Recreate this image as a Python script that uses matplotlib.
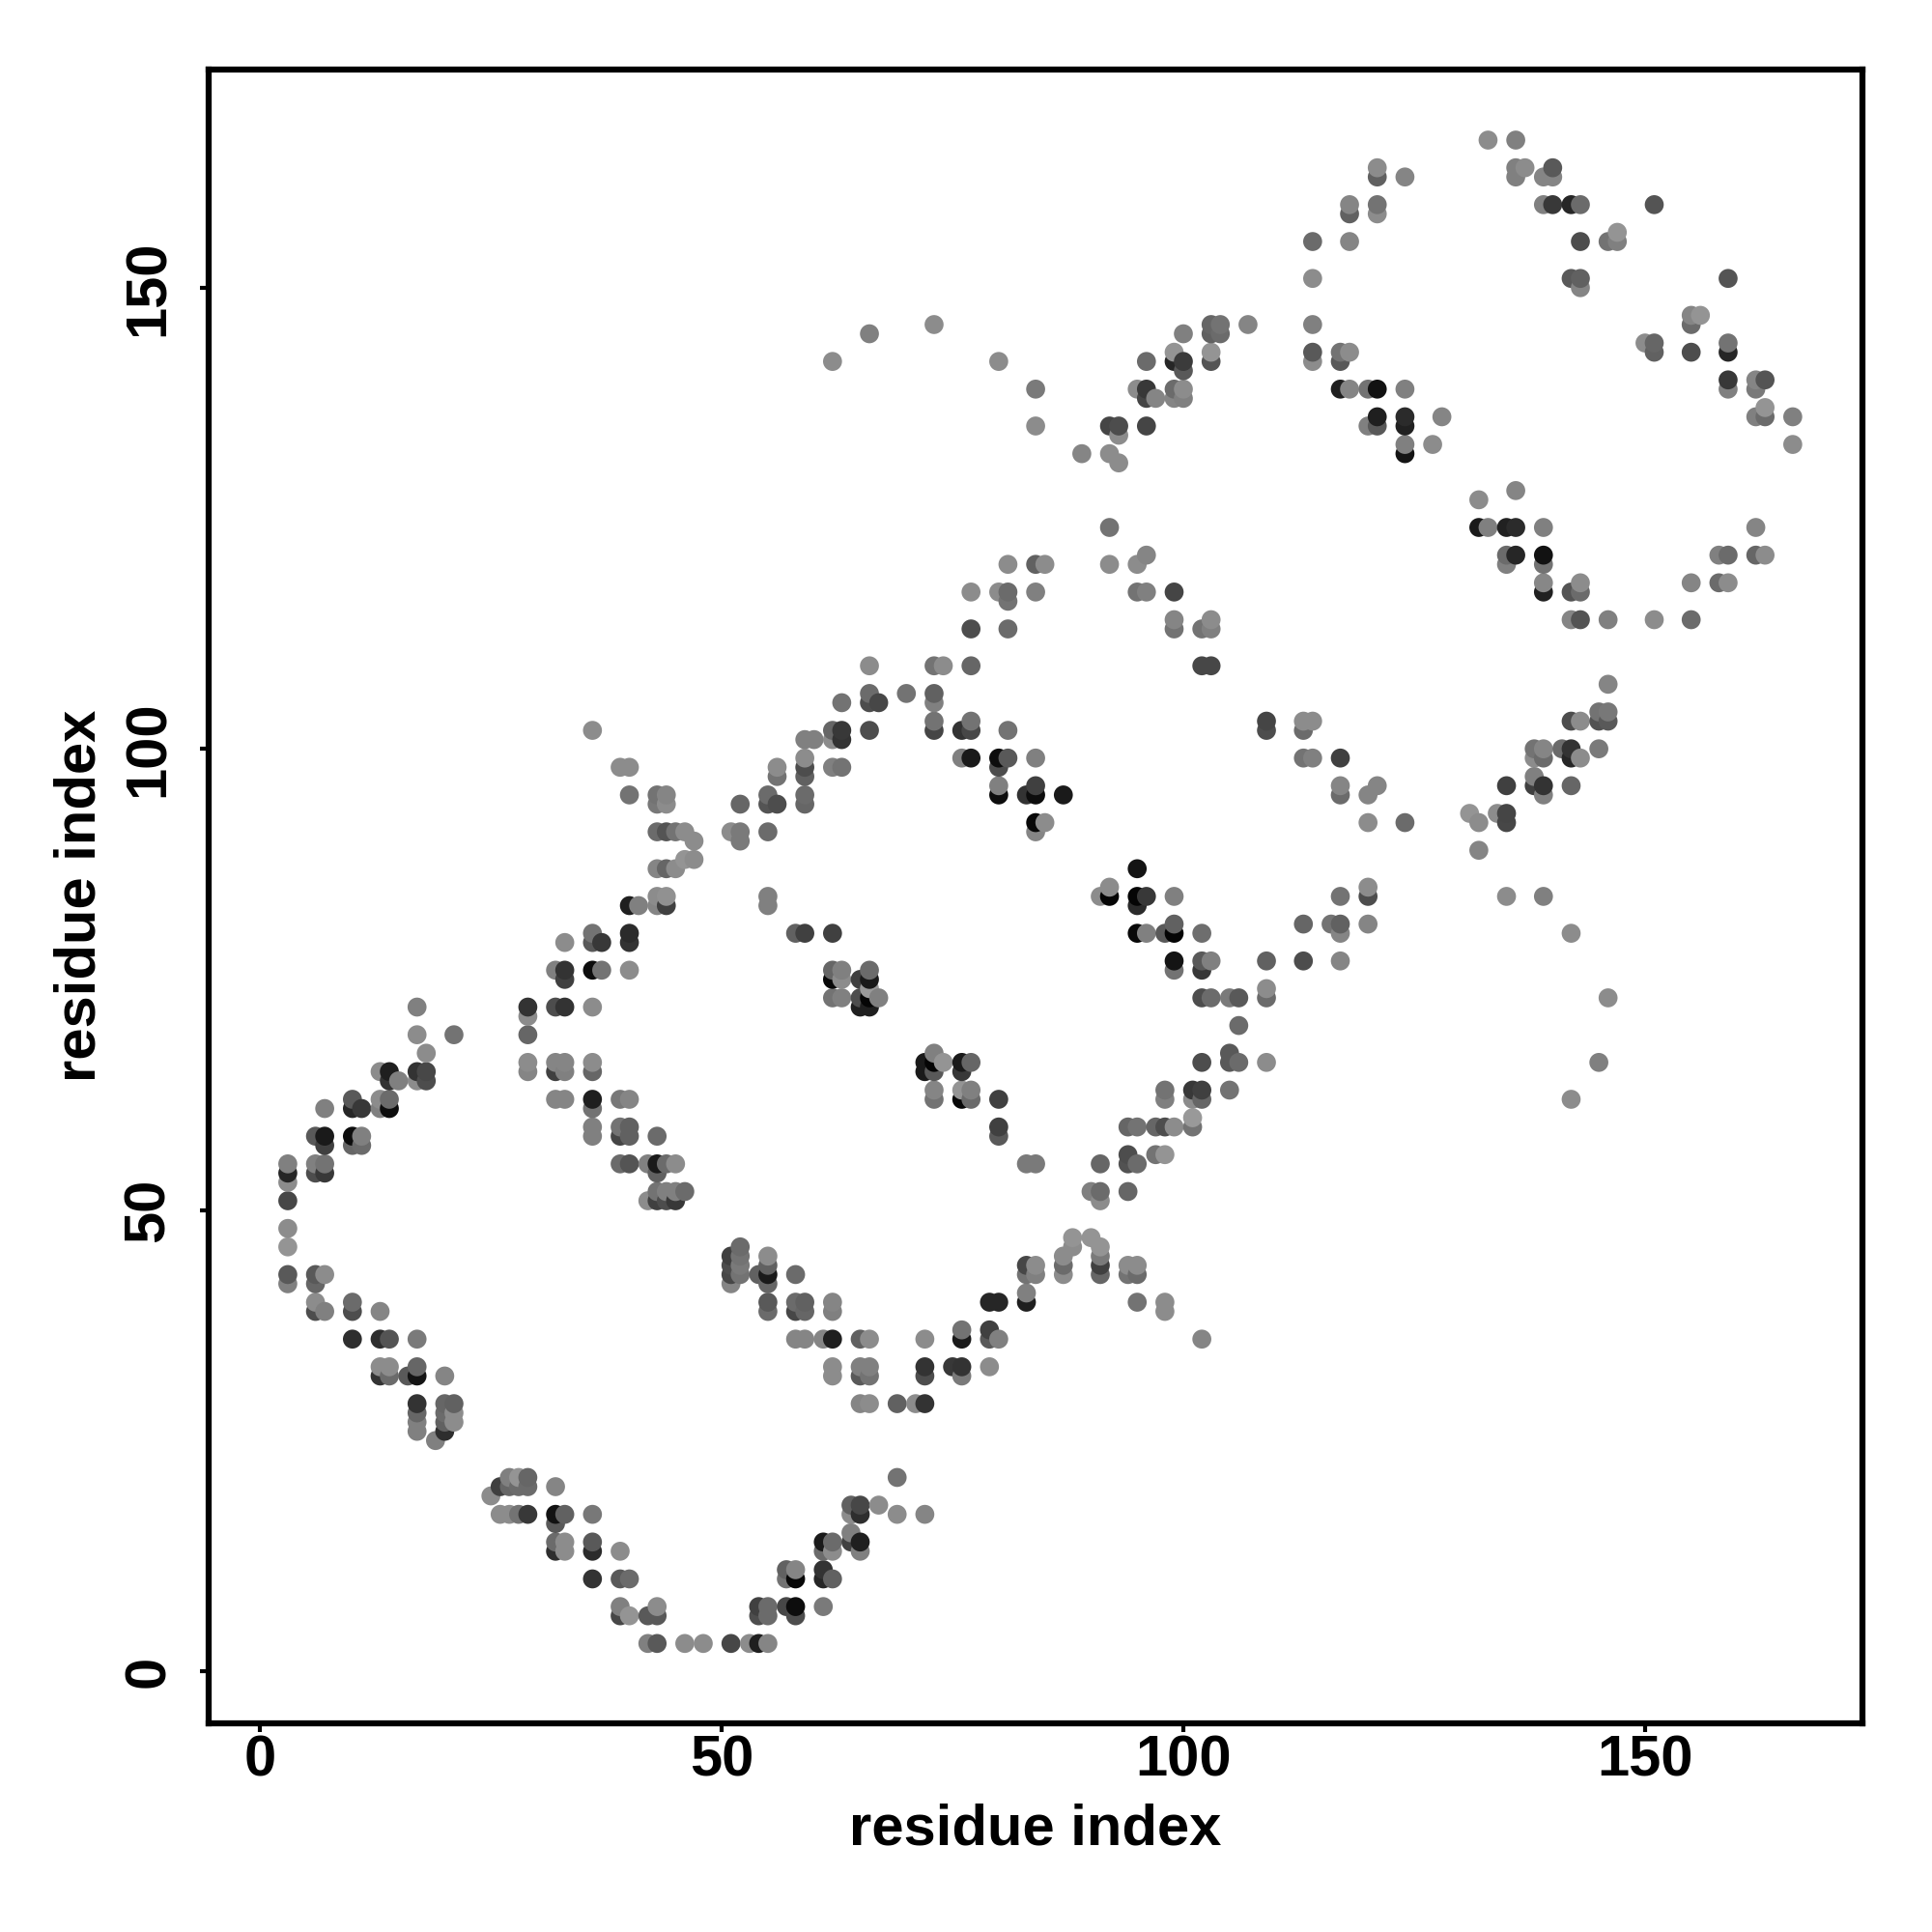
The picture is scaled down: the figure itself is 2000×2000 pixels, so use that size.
import matplotlib
matplotlib.use("Agg")
import matplotlib.pyplot as plt

# (residue i, residue j, grey level), grouped by region
arc_lower_left = [
(17,72,.5),(17,69,.55),(21,69,.45),(18,67,.55),(13,65,.55),(14,65,.12),(14,64,.2),(15,64,.5),(17,65,.2),(18,65,.28),(17,64,.55),(18,64,.3),
(7,61,.5),(10,62,.35),(10,61,.15),(11,61,.22),(13,62,.55),(14,62,.42),(13,61,.5),(14,61,.05),
(6,58,.35),(7,58,.1),(7,57,.25),(10,58,.05),(11,58,.5),(10,57,.4),(11,57,.42),
(3,55,.5),(3,54,.15),(3,53,.55),(6,55,.5),(7,55,.45),(6,54,.3),(7,54,.22),(3,51,.28),(3,48,.55),(3,46,.58),
(3,43,.35),(3,42,.5),(6,43,.35),(7,43,.55),(6,42,.4),(6,40,.55),(6,39,.3),(7,39,.5),(10,40,.42),(10,39,.3),(13,39,.52),
(10,36,.18),(13,36,.18),(14,36,.33),(17,36,.48),(13,33,.55),(14,33,.55),(13,32,.2),(14,32,.42),(16,32,.35),(17,33,.4),(17,32,.08),(20,32,.52),
(17,29,.2),(17,28,.4),(17,27,.5),(17,26,.5),(20,29,.4),(21,29,.38),(20,28,.42),(21,28,.55),(20,27,.38),(21,27,.55),(20,26,.18),(19,25,.5),
]
arc_bottom = [
(25,19,.55),(26,20,.25),(27,21,.5),(27,20,.4),(28,21,.58),(28,20,.42),(29,21,.4),(29,20,.42),(32,20,.52),
(26,17,.55),(27,17,.55),(28,17,.45),(29,17,.22),(32,17,.07),(33,17,.38),(32,16,.35),(36,17,.47),
(32,14,.42),(33,14,.55),(32,13,.18),(33,13,.55),(36,14,.35),(36,13,.17),(39,13,.55),(36,10,.2),(39,10,.35),(40,10,.42),
(39,7,.5),(39,6,.28),(40,6,.58),(42,6,.35),(43,7,.55),(43,6,.35),
(42,3,.5),(43,3,.35),(46,3,.55),(48,3,.55),(51,3,.28),(53,3,.55),(54,3,.12),(55,3,.52),
(54,7,.25),(55,7,.42),(54,6,.3),(55,6,.42),(57,7,.28),(58,7,.05),(58,6,.3),(61,7,.48),
(57,11,.38),(58,11,.52),(57,10,.45),(58,10,.03),(61,11,.2),(61,10,.15),(62,10,.38),
(61,14,.1),(62,14,.42),(61,13,.42),(62,13,.55),(64,15,.5),(64,14,.25),(65,14,.12),(65,13,.5),
(64,18,.38),(65,18,.28),(64,17,.55),(65,17,.18),(67,18,.55),(69,17,.55),(72,17,.52),(69,21,.45),
]
band_29_47 = [
(36,102,.55),(39,98,.55),(40,98,.55),(40,95,.45),(43,95,.45),(44,95,.52),(43,94,.47),(44,94,.55),
(43,91,.42),(44,91,.33),(45,91,.45),(46,91,.55),(47,90,.55),(43,87,.52),(44,87,.4),(45,87,.55),(46,88,.58),(47,88,.55),
(40,83,.12),(41,83,.5),(43,84,.55),(44,84,.57),(43,83,.52),(44,83,.25),
(33,79,.55),(36,80,.45),(36,79,.35),(37,79,.22),(40,80,.17),(40,79,.2),
(32,76,.5),(33,76,.2),(33,75,.25),(36,76,.05),(37,76,.45),(40,76,.55),
(29,72,.2),(29,71,.55),(32,72,.3),(33,72,.2),(36,72,.55),(29,69,.4),
(29,66,.55),(29,65,.52),(32,66,.52),(33,66,.52),(32,65,.25),(33,65,.5),(36,66,.55),(36,65,.4),
(32,62,.52),(33,62,.52),(36,62,.12),(36,61,.45),(39,62,.47),(40,62,.52),
(36,59,.5),(36,58,.5),(39,59,.45),(40,59,.38),(39,58,.27),(40,58,.38),(43,58,.42),
(39,55,.42),(40,55,.33),(42,55,.5),(43,55,.1),(44,55,.42),(45,55,.55),(43,54,.38),
(43,52,.45),(44,52,.5),(45,52,.5),(46,52,.42),(42,51,.55),(43,51,.25),(44,51,.3),(45,51,.22),
]
band_low_mid = [
(51,45,.25),(51,44,.3),(51,43,.28),(51,42,.52),(52,46,.42),(52,45,.45),(52,44,.48),(52,43,.45),
(54,43,.38),(55,45,.55),(55,44,.38),(55,43,.1),(55,42,.4),(58,43,.42),
(55,40,.35),(55,39,.42),(58,40,.42),(59,40,.38),(58,39,.28),(59,39,.4),(62,40,.52),(62,39,.5),
(58,36,.52),(59,36,.52),(61,36,.52),(62,36,.12),(65,36,.38),(66,36,.55),(72,36,.55),
(76,37,.45),(76,36,.1),(79,37,.25),(79,36,.35),(80,36,.5),
(62,33,.55),(62,32,.55),(65,33,.5),(66,33,.5),(65,32,.35),(66,32,.45),(72,33,.2),(72,32,.3),(75,33,.22),(76,33,.2),(76,32,.48),(79,33,.55),
(65,29,.52),(66,29,.55),(69,29,.38),(71,29,.55),(72,29,.2),
(79,40,.15),(80,40,.15),(83,41,.5),(83,40,.12),
(83,44,.28),(84,44,.55),(83,43,.45),(84,43,.5),(87,45,.55),(87,44,.42),(87,43,.55),
(88,47,.58),(88,46,.55),(90,47,.58),(91,46,.58),(91,45,.48),(91,44,.25),(91,43,.4),
(94,44,.55),(95,44,.55),(94,43,.45),(95,43,.42),(95,40,.45),(98,40,.55),(98,39,.55),(102,36,.52),
]
band_centre = [
(55,84,.5),(55,83,.5),(58,80,.38),(59,80,.25),(62,80,.25),
(62,76,.4),(62,75,.03),(63,76,.5),(63,75,.55),(65,75,.25),(66,76,.42),(66,75,.1),
(62,73,.45),(63,73,.5),(65,73,.3),(65,72,.12),(66,74,.6),(66,73,.02),(66,72,.12),(67,73,.5),
(72,66,.1),(73,67,.5),(73,66,.02),(74,66,.58),(72,65,.1),(73,65,.35),(76,66,.1),(77,66,.4),(76,65,.22),
(73,63,.52),(73,62,.45),(76,63,.58),(77,63,.5),(76,62,.03),(77,62,.42),(80,62,.25),(80,59,.25),(80,58,.35),(83,55,.48),(84,55,.48),
(90,52,.5),(91,52,.42),(91,51,.55),(94,52,.4),(91,55,.4),(94,56,.3),(94,55,.32),(95,55,.42),(97,56,.45),(98,56,.58),
(94,59,.4),(95,59,.45),(97,59,.4),(98,59,.3),(99,59,.55),(101,60,.6),(101,59,.45),
(98,63,.45),(98,62,.5),(101,63,.22),(102,63,.25),(101,62,.55),(102,62,.4),(105,63,.45),
(102,66,.3),(105,67,.35),(105,66,.35),(106,66,.42),(109,66,.55),(106,70,.42),
(102,73,.3),(103,73,.42),(105,73,.48),(106,73,.35),(109,74,.55),(109,73,.42),
(99,77,.08),(99,76,.45),(102,77,.35),(103,77,.5),(102,76,.22),(109,77,.38),(113,77,.3),(117,77,.52),
(95,80,.03),(96,80,.5),(98,80,.35),(99,81,.38),(99,80,.02),(102,80,.43),
(113,81,.4),(116,81,.45),(117,81,.38),(117,80,.52),(120,81,.52),(117,84,.45),(120,85,.55),(120,84,.3),
(91,84,.55),(92,85,.55),(92,84,.02),(95,87,.08),(95,84,.02),(96,84,.22),(95,83,.17),(99,84,.5),
(135,84,.55),(139,84,.5),(142,80,.55),(146,73,.55),(145,66,.5),(142,62,.55),
]
band_diag_upper = [
(51,91,.55),(52,91,.48),(52,90,.48),(55,91,.42),(52,94,.4),(55,95,.42),(55,94,.33),(56,94,.3),
(56,98,.55),(56,97,.45),(59,99,.55),(59,98,.3),(59,97,.38),(59,95,.42),(59,94,.4),
(59,101,.5),(60,101,.5),(62,102,.4),(63,102,.22),(62,101,.55),(63,101,.2),(66,102,.3),(62,98,.5),(63,98,.45),
(63,105,.45),(66,106,.42),(66,105,.3),(67,105,.28),(70,106,.45),(66,109,.55),(73,109,.45),(74,109,.55),(77,109,.4),
(73,106,.38),(73,105,.5),(73,103,.45),(73,102,.27),(76,102,.2),(77,103,.45),(77,102,.28),(81,102,.45),
(76,99,.5),(77,99,.1),(80,99,.05),(81,99,.35),(84,99,.5),(80,98,.3),
(80,96,.5),(80,95,.05),(83,95,.2),(84,96,.25),(84,95,.05),(87,95,.1),(84,92,.03),(85,92,.55),(84,91,.52),
(77,113,.3),(81,113,.42),(77,117,.55),(80,117,.55),(81,117,.42),(81,116,.45),(84,117,.5),
(81,120,.55),(84,120,.38),(85,120,.55),(92,124,.45),(92,120,.55),(95,120,.55),(96,121,.52),
(95,117,.45),(96,117,.5),(99,117,.27),(99,114,.52),(99,113,.45),(102,113,.45),(103,114,.55),(103,113,.5),(102,109,.28),(103,109,.28),
(109,103,.27),(109,102,.3),(113,103,.55),(113,102,.42),(114,103,.55),(113,99,.45),(114,99,.5),(117,99,.25),
(117,96,.52),(117,95,.42),(120,95,.52),(121,96,.52),(120,92,.55),(124,92,.42),
(131,93,.58),(132,92,.55),(134,93,.55),(135,93,.27),(135,92,.28),(132,89,.52),
(135,96,.25),(138,97,.5),(138,96,.25),(139,96,.2),(139,95,.5),(142,96,.4),
(138,100,.45),(139,100,.52),(138,99,.55),(139,99,.42),(141,100,.42),(142,100,.2),(142,99,.15),(143,99,.55),(145,100,.48),
(142,103,.3),(143,103,.55),(145,104,.45),(146,104,.47),(145,103,.32),(146,103,.35),(146,107,.52),
]
band_upper_mid = [
(73,146,.55),(66,145,.5),(62,142,.55),(80,142,.55),(84,139,.48),(84,135,.55),
(92,135,.27),(93,135,.3),(93,134,.55),(96,135,.27),(89,132,.52),(92,132,.55),(93,131,.55),
(95,139,.55),(96,139,.22),(96,138,.27),(97,138,.52),(99,139,.42),(100,139,.55),(99,138,.52),(100,138,.5),
(96,142,.42),(99,143,.58),(99,142,.15),(100,142,.23),(100,141,.35),(103,143,.58),(103,142,.33),
(100,145,.5),(103,146,.4),(104,146,.45),(103,145,.38),(104,145,.42),(107,146,.52),
]
arc_upper_right = [
(133,166,.55),(136,166,.5),(136,163,.5),(137,163,.55),(136,162,.5),(139,162,.52),(140,162,.52),(140,163,.35),
(121,163,.55),(121,162,.38),(124,162,.52),(139,159,.5),(140,159,.22),(142,159,.15),(143,159,.42),(151,159,.33),
(118,159,.52),(118,158,.38),(121,159,.45),(121,158,.55),(114,155,.42),(118,155,.52),(143,155,.3),(146,155,.45),(147,156,.58),(147,155,.5),
(114,151,.55),(142,151,.35),(143,151,.38),(143,150,.52),(159,151,.33),
(114,146,.5),(155,147,.52),(156,147,.58),(155,146,.42),
(114,143,.35),(114,142,.55),(117,143,.45),(118,143,.55),(117,142,.35),
(150,144,.55),(151,144,.4),(151,143,.38),(155,143,.3),(159,144,.45),(159,143,.15),
(117,139,.12),(118,139,.52),(120,139,.45),(121,139,.07),(124,139,.5),
(121,136,.12),(120,135,.5),(121,135,.35),(124,136,.17),(124,135,.13),(128,136,.52),(124,133,.5),(124,132,.08),(127,133,.55),
(159,140,.22),(159,139,.5),(162,140,.52),(163,140,.33),(162,139,.48),(163,137,.58),(162,136,.5),(163,136,.42),(166,136,.5),(166,133,.55),
(132,127,.55),(136,128,.52),(132,124,.1),(133,124,.5),(135,124,.13),(136,124,.17),(139,124,.5),(162,124,.52),
(135,121,.42),(136,121,.15),(139,121,.07),(158,121,.5),(159,121,.42),(162,121,.4),(163,121,.55),(135,120,.5),(139,120,.45),
(139,118,.53),(139,117,.13),(142,117,.33),(143,118,.55),(143,117,.42),(155,118,.52),(158,118,.42),(159,118,.55),
(142,114,.52),(143,114,.33),(146,114,.5),(151,114,.55),(155,114,.42),
]
x_ticks = [0, 50, 100, 150]
y_ticks = [0, 50, 100, 150]
x_label = "residue index"
y_label = "residue index"

contacts = sorted(arc_lower_left + arc_bottom + band_29_47 + band_low_mid + band_centre
                  + band_diag_upper + band_upper_mid + arc_upper_right, key=lambda p: (p[0], p[1]))
xs = [p[0] for p in contacts]
ys = [p[1] for p in contacts]
greys = [(p[2], p[2], p[2]) for p in contacts]

plt.rcParams['font.family'] = ['Liberation Sans', 'DejaVu Sans']
fig = plt.figure(figsize=(20, 20), dpi=100)
W = H = 2000.0
ax = fig.add_axes([216/W, 1-1784/H, (1928-216)/W, (1784-71.5)/H])
ax.scatter(xs, ys, c=greys, s=200, linewidths=0, zorder=3, clip_on=True)
ax.set_xlim(-5.57, 173.55)
ax.set_ylim(-5.66, 173.7)
ax.set_xticks(x_ticks)
ax.set_yticks(y_ticks)
for s in ax.spines.values():
    s.set_linewidth(4.5)
    s.set_color('black')
ax.tick_params(axis='both', length=6.5, width=3, color='black', labelsize=43)
ax.tick_params(axis='x', pad=1.5)
ax.tick_params(axis='y', pad=18)
for t in ax.get_xticklabels():
    t.set_fontweight('bold')
for t in ax.get_yticklabels():
    t.set_fontweight('bold')
    t.set_rotation(90)
    t.set_va('center')
fig.text(1072/W, 1-1894/H, x_label, ha='center', va='center', fontsize=43, fontweight='bold')
fig.text(83/W, 1-927/H, y_label, ha='center', va='center', rotation=90, fontsize=43, fontweight='bold')
fig.savefig('out.png', dpi=100, facecolor='white')
